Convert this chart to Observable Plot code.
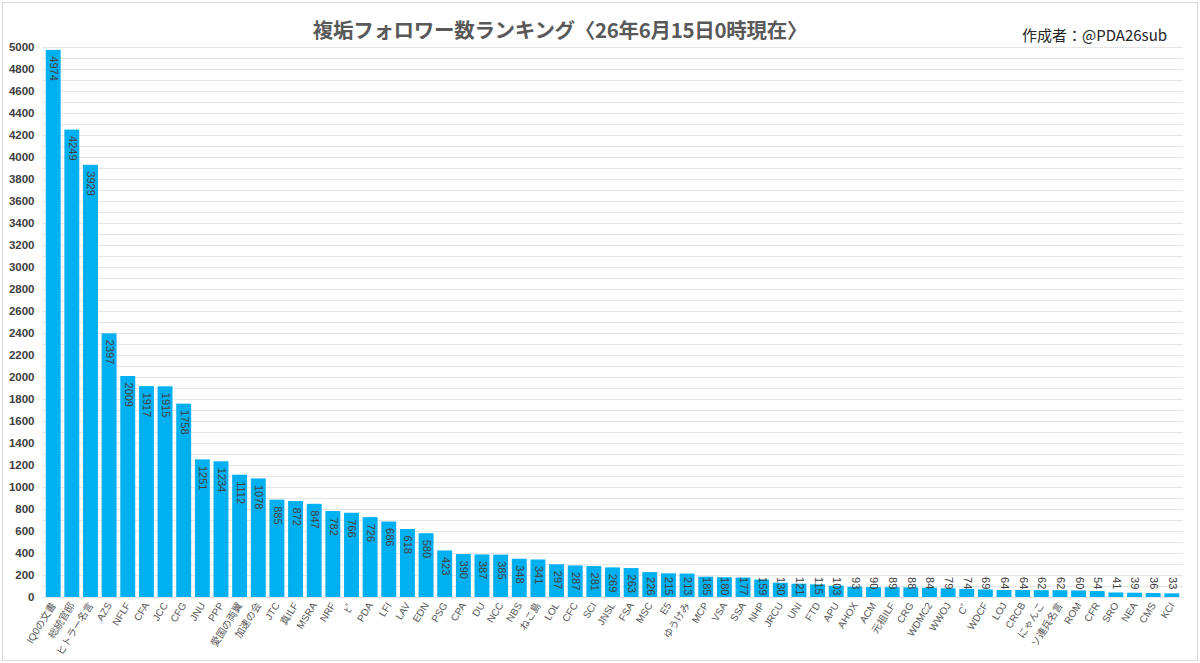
<!DOCTYPE html>
<html>
<head>
<meta charset="utf-8">
<script src="https://cdn.jsdelivr.net/npm/d3@7"></script>
<script src="https://cdn.jsdelivr.net/npm/@observablehq/plot@0.6"></script>
<style>
  body { margin: 0; background: #fff; }
  #wrap { position: relative; width: 1200px; height: 663px; overflow: hidden; background: #fff;
          font-family: "Liberation Sans", "Noto Sans CJK JP", sans-serif; }
  #frame { position: absolute; left: 2px; top: 2px; right: 2px; bottom: 2px; border: 1px solid #d9d9d9; pointer-events: none; }
  #title { position: absolute; left: 0; width: 1120px; top: 14px; text-align: center; font-size: 20.5px; font-weight: bold; color: #595959;
           font-family: "Noto Sans CJK JP", "Liberation Sans", sans-serif; letter-spacing: -0.3px; }
  #author { position: absolute; left: 1022px; top: 24px; font-size: 15px; color: #262626;
            font-family: "Noto Sans CJK JP", "Liberation Sans", sans-serif; }
  #chart { position: absolute; left: 0; top: 0; }
</style>
</head>
<body>
<div id="wrap">
  <div id="chart"></div>
  <div id="title">複垢フォロワー数ランキング〈26年6月15日0時現在〉</div>
  <div id="author">作成者：@PDA26sub</div>
  <div id="frame"></div>
</div>
<script>
const names = ["IQ0の文書","総統官邸","ヒトラー名言","AZS","NFLF","CFA","JCC","CFG","JNU","PPP",
  "愛国の両翼","加速の会","JTC","真ILF","MSRA","NRF","ﾋﾟ","PDA","LFI","LAV",
  "EDN","PSG","CPA","DU","NCC","NBS","ねこ島","LOL","CFC","SCI",
  "JNSL","FSA","MSC","E5","ゆうけみ","MCP","VSA","SSA","NHP","JRCU",
  "UNI","FTD","APU","AHOX","ACM","元祖ILF","CRG","WDMC2","WWOJ","Cﾟ",
  "WDCF","LOJ","CRCB","にゃんこ","ソ連兵名言","ROM","CFR","SRO","NEA","CMS","KCI"];
const followers = [4974,4249,3929,2397,2009,1917,1915,1758,1251,1234,
  1112,1078,885,872,847,782,766,726,686,618,
  580,423,390,387,385,348,341,297,287,281,
  269,263,226,215,213,185,180,177,159,130,
  121,115,103,93,90,89,88,84,79,74,
  69,64,64,62,62,60,54,41,39,36,33];
const yTicks = d3.range(0, 5001, 200);
const gridLines = d3.range(0, 5001, 100);

const data = names.map((name, i) => ({name, value: followers[i]}));

const chart = Plot.plot({
  width: 1200,
  height: 663,
  marginTop: 47,
  marginBottom: 66,
  marginLeft: 42,
  marginRight: 17,
  style: {fontFamily: "'Liberation Sans', 'Noto Sans CJK JP', sans-serif", background: "transparent"},
  x: {type: "band", domain: names, padding: 0.2},
  y: {domain: [0, 5000]},
  marks: [
    Plot.ruleY(gridLines, {stroke: "#e6e6e6", strokeWidth: 1}),
    Plot.barY(data, {x: "name", y: "value", fill: "#00B0F0"}),
    Plot.text(data, {
      x: "name",
      y: d => Math.max(d.value, 240),
      text: d => String(d.value),
      rotate: 90,
      textAnchor: "start",
      lineAnchor: "middle",
      dy: 6,
      fontSize: 11,
      fill: "#404040"
    }),
    Plot.axisY({ticks: yTicks, tickFormat: d => String(d), tickSize: 0, tickPadding: 8, fontSize: 11.5, fontWeight: "bold", fill: "#404040", label: null}),
    Plot.axisX({tickSize: 0, tickPadding: 6, tickRotate: -58, fontSize: 10, fill: "#595959", label: null})
  ]
});
document.getElementById("chart").appendChild(chart);
</script>
</body>
</html>
